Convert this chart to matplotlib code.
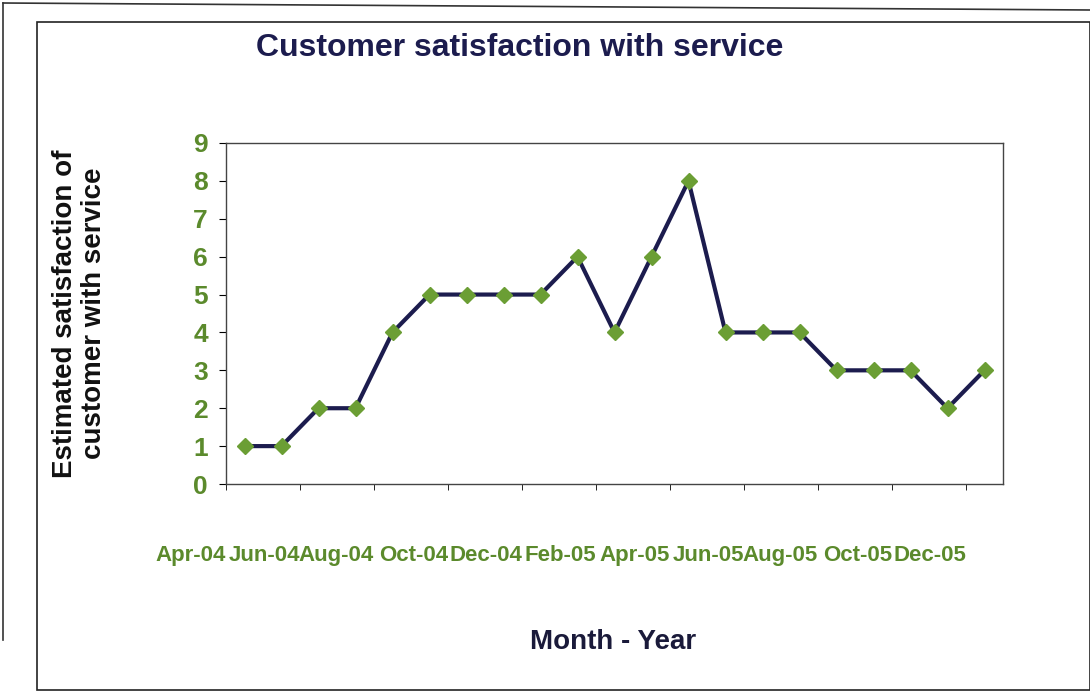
import matplotlib

matplotlib.use("Agg")
import matplotlib.pyplot as plt
from matplotlib.lines import Line2D
from matplotlib.patches import Rectangle

plt.rcParams["font.family"] = ["Liberation Sans", "DejaVu Sans"]

months = [
    "Apr-04", "May-04", "Jun-04", "Jul-04", "Aug-04", "Sep-04", "Oct-04",
    "Nov-04", "Dec-04", "Jan-05", "Feb-05", "Mar-05", "Apr-05", "May-05",
    "Jun-05", "Jul-05", "Aug-05", "Sep-05", "Oct-05", "Nov-05", "Dec-05",
]
satisfaction = [1, 1, 2, 2, 4, 5, 5, 5, 5, 6, 4, 6, 8, 4, 4, 4, 3, 3, 3, 2, 3]
tick_labels = months[::2]

GREEN_TXT = "#5b8a2c"
NAVY = "#1c1c4e"

fig = plt.figure(figsize=(10.9, 7), dpi=100)

# frames around the chart area (scanned page look)
fig.patches.append(Rectangle((37 / 1090, 10 / 700), 1 - 37 / 1090, 1 - 32 / 700,
                             transform=fig.transFigure, fill=False,
                             edgecolor="#222222", linewidth=1.2))
fig.lines.append(Line2D([3 / 1090, 3 / 1090], [1 - 3 / 700, 60 / 700],
                        transform=fig.transFigure, color="#333333", linewidth=1.2))
fig.lines.append(Line2D([3 / 1090, 1], [1 - 3 / 700, 1 - 10 / 700],
                        transform=fig.transFigure, color="#333333", linewidth=1.2))

ax = fig.add_axes([226 / 1090, 1 - 484 / 700, 777 / 1090, 341 / 700])
x = list(range(len(satisfaction)))
ax.plot(x, satisfaction, color=NAVY, linewidth=3, marker="D", markersize=8,
        markerfacecolor="#6b9e34", markeredgecolor="#6b9e34", zorder=3)

ax.set_xlim(-0.5, len(satisfaction) - 0.5)
ax.set_ylim(0, 9)
ax.set_yticks(range(10))
ax.tick_params(axis="y", labelsize=19, labelcolor=GREEN_TXT, length=5,
               width=0.8, pad=8)
for lab in ax.get_yticklabels():
    lab.set_fontweight("bold")

ax.set_xticks([i - 0.5 for i in range(0, len(satisfaction), 2)])
ax.set_xticklabels(tick_labels, ha="right", fontsize=16, fontweight="bold",
                   color=GREEN_TXT)
ax.tick_params(axis="x", length=4, width=0.6, pad=40)

for s in ax.spines.values():
    s.set_color("#444444")
    s.set_linewidth(1.0)

ax.set_ylabel("Estimated satisfaction of\ncustomer with service", fontsize=20,
              fontweight="bold", color="#111111", labelpad=62,
              linespacing=1.15)
fig.text(613 / 1090, 1 - 642 / 700, "Month - Year", ha="center", va="center",
         fontsize=20, fontweight="bold", color="#1a1a3a")
fig.text(520 / 1090, 1 - 48 / 700, "Customer satisfaction with service",
         ha="center", va="center", fontsize=23, fontweight="bold", color=NAVY)

fig.savefig("out.png", dpi=100)
